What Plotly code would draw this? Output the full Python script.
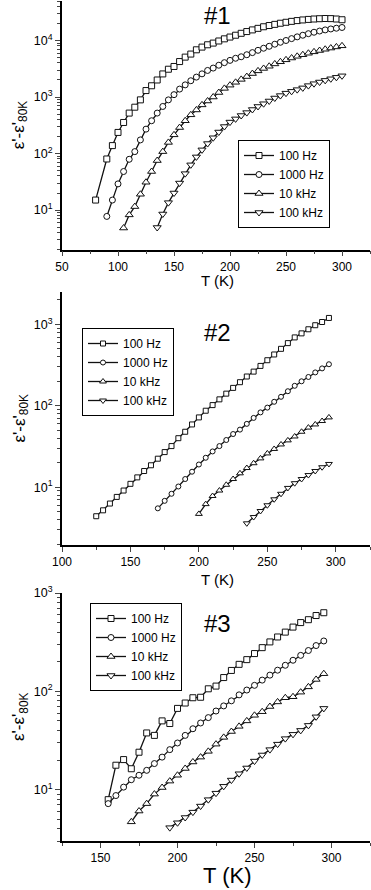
import math
import plotly.graph_objects as go

W, H = 371, 890
FONT = "Liberation Sans, Arial, sans-serif"

# ---- sample #1 -----------------------------------------------------------
p1_t_100hz = [80, 90, 95, 100, 105, 110, 115, 120, 125, 130, 135, 140, 145, 150,
              155, 160, 165, 170, 175, 180, 185, 190, 195, 200, 205, 210, 215,
              220, 225, 230, 235, 240, 245, 250, 255, 260, 265, 270, 275, 280,
              285, 290, 295, 300]
p1_100hz = [15, 80, 138, 236, 354, 519, 660, 890, 1300, 1580, 2000, 2560, 3100,
            3470, 4240, 5080, 5750, 6840, 7640, 8400, 9000, 9800, 10700, 11500,
            12400, 13400, 14400, 15400, 16400, 17500, 18400, 19300, 20200, 21000,
            21800, 22500, 23100, 23600, 24000, 24300, 24500, 24400, 24000, 23300]
p1_t_1000hz = [90, 95, 100, 105, 110, 115, 120, 125, 130, 135, 140, 145, 150,
               155, 160, 165, 170, 175, 180, 185, 190, 195, 200, 205, 210, 215,
               220, 225, 230, 235, 240, 245, 250, 255, 260, 265, 270, 275, 280,
               285, 290, 295, 300]
p1_1000hz = [7.7, 15, 29, 48, 79, 108, 174, 270, 380, 519, 680, 890, 1100, 1380,
             1640, 1940, 2250, 2570, 2950, 3250, 3650, 4050, 4450, 4850, 5150,
             5600, 6100, 6700, 7300, 7900, 8600, 9300, 10000, 10800, 11600, 12400,
             13200, 14000, 14700, 15400, 16000, 16500, 17000]
p1_t_10khz = [105, 110, 115, 120, 125, 130, 135, 140, 145, 150, 155, 160, 165,
              170, 175, 180, 185, 190, 195, 200, 205, 210, 215, 220, 225, 230,
              235, 240, 245, 250, 255, 260, 265, 270, 275, 280, 285, 290, 295, 300]
p1_10khz = [4.8, 8.2, 11.5, 19, 31, 48, 75, 108, 157, 214, 288, 380, 484, 590,
            725, 850, 1000, 1200, 1420, 1620, 1820, 2050, 2300, 2600, 2900, 3200,
            3500, 3850, 4200, 4550, 4900, 5250, 5600, 5950, 6300, 6650, 7000, 7350,
            7700, 8050]
p1_t_100khz = [135, 140, 145, 150, 155, 160, 165, 170, 175, 180, 185, 190, 195,
               200, 205, 210, 215, 220, 225, 230, 235, 240, 245, 250, 255, 260,
               265, 270, 275, 280, 285, 290, 295, 300]
p1_100khz = [4.9, 8.5, 13.5, 20, 30, 44, 63, 87, 116, 150, 190, 240, 300, 360,
             410, 470, 530, 600, 680, 760, 850, 960, 1060, 1170, 1260, 1350, 1450,
             1590, 1720, 1840, 1970, 2100, 2230, 2370]

# ---- sample #2 -----------------------------------------------------------
p2_t_100hz = [125, 130, 135, 140, 145, 150, 155, 160, 165, 170, 175, 180, 185,
              190, 195, 200, 205, 210, 215, 220, 225, 230, 235, 240, 245, 250,
              255, 260, 265, 270, 275, 280, 285, 290, 295]
p2_100hz = [4.4, 5.2, 6.3, 7.6, 9.1, 11, 13.2, 15.8, 18.6, 22.4, 27, 32, 40, 48,
            59, 72, 87, 102, 120, 141, 166, 195, 229, 263, 309, 363, 427, 501,
            589, 692, 776, 871, 977, 1070, 1200]
p2_t_1000hz = [170, 175, 180, 185, 190, 195, 200, 205, 210, 215, 220, 225, 230,
               235, 240, 245, 250, 255, 260, 265, 270, 275, 280, 285, 290, 295]
p2_1000hz = [5.5, 6.8, 8.3, 10.2, 12.6, 15.5, 19, 23, 27.5, 32, 38, 45, 51, 60,
             71, 83, 95, 112, 129, 151, 176, 200, 226, 257, 288, 324]
p2_t_10khz = [200, 205, 210, 215, 220, 225, 230, 235, 240, 245, 250, 255, 260,
              265, 270, 275, 280, 285, 290, 295]
p2_10khz = [4.7, 6.2, 7.8, 9.1, 10.7, 12.6, 14.8, 17.2, 19.7, 22.6, 26, 29.5,
            33.5, 37.6, 42, 48, 54, 59, 65, 72]
p2_t_100khz = [235, 240, 245, 250, 255, 260, 265, 270, 275, 280, 285, 290, 295]
p2_100khz = [3.6, 4.3, 5.1, 6.0, 7.1, 8.3, 9.8, 11.2, 12.6, 14.1, 15.8, 17.6, 19.3]

# ---- sample #3 -----------------------------------------------------------
p3_t_100hz = [155, 160, 165, 170, 175, 180, 185, 190, 195, 200, 205, 210, 215,
              220, 225, 230, 235, 240, 245, 250, 255, 260, 265, 270, 275, 280,
              285, 290, 295]
p3_100hz = [7.9, 17.7, 20.2, 16.3, 24, 37.7, 35.6, 50, 47, 67, 76, 86, 87, 106,
            113, 138, 163, 188, 210, 242, 278, 318, 357, 400, 450, 500, 535, 590,
            630]
p3_t_1000hz = p3_t_100hz
p3_1000hz = [7.2, 8.7, 10.6, 12.6, 14, 15.7, 18.4, 21.4, 25.5, 29.8, 35.6, 41.6,
             47.6, 54, 63, 71, 80, 92, 103, 115, 130, 146, 164, 184, 207, 232,
             260, 292, 325]
p3_t_10khz = [170, 175, 180, 185, 190, 195, 200, 205, 210, 215, 220, 225, 230,
              235, 240, 245, 250, 255, 260, 265, 270, 275, 280, 285, 290, 295]
p3_10khz = [4.7, 6.05, 7.2, 9.0, 10.5, 12.2, 14, 16.4, 19.1, 21.4, 24.5, 29, 34,
            39, 44, 50, 57, 62, 70, 78, 86, 88, 98, 111, 132, 151]
p3_t_100khz = [195, 200, 205, 210, 215, 220, 225, 230, 235, 240, 245, 250, 255,
               260, 265, 270, 275, 280, 285, 290, 295]
p3_100khz = [4.1, 4.6, 5.2, 5.9, 6.8, 7.9, 9.2, 10.8, 12.5, 14.5, 16.6, 19.5,
             22.5, 25.5, 29, 33, 36.5, 40, 45, 55, 67]

FREQ_LABELS = ["100 Hz", "1000 Hz", "10 kHz", "100 kHz"]
SYMBOLS = ["square", "circle", "triangle-up", "triangle-down"]
Y_TICKS = [10, 100, 1000, 10000]
Y_TICKTEXT = ["10<sup>1</sup>", "10<sup>2</sup>", "10<sup>3</sup>", "10<sup>4</sup>"]
Y_MINOR = [m * 10 ** e for e in range(0, 5) for m in range(2, 10)]


def fx(px):
    return px / W


def fy(px):
    return 1 - px / H


# pixel boxes of the three stacked panels in the original figure
# (legend: left edge + vertical centre of the box)
PANELS = [
    dict(name="#1", series=[(p1_t_100hz, p1_100hz), (p1_t_1000hz, p1_1000hz),
                            (p1_t_10khz, p1_10khz), (p1_t_100khz, p1_100khz)],
         xr=[50, 325], yr=[2, 50000], top=1, bot=249.5, msize=6,
         legend=(238, 184), tag=(217, 16), xt=(217, 280), xt_size=15),
    dict(name="#2", series=[(p2_t_100hz, p2_100hz), (p2_t_1000hz, p2_1000hz),
                            (p2_t_10khz, p2_10khz), (p2_t_100khz, p2_100khz)],
         xr=[100, 325], yr=[1.95, 2500], top=292, bot=545, msize=5,
         legend=(82, 372), tag=(217, 332), xt=(217, 579), xt_size=15),
    dict(name="#3", series=[(p3_t_100hz, p3_100hz), (p3_t_1000hz, p3_1000hz),
                            (p3_t_10khz, p3_10khz), (p3_t_100khz, p3_100khz)],
         xr=[125, 325], yr=[3, 1000], top=593, bot=841, msize=6,
         legend=(90, 647), tag=(217, 623), xt=(227, 875), xt_size=22),
]

fig = go.Figure()
annotations = []
layout = {}
for i, p in enumerate(PANELS, start=1):
    sfx = "" if i == 1 else str(i)
    leg = "legend" if i == 1 else f"legend{i}"
    for (t, v), lab, sym in zip(p["series"], FREQ_LABELS, SYMBOLS):
        fig.add_trace(go.Scatter(
            x=t, y=v, mode="lines+markers", name=lab, legend=leg,
            xaxis=f"x{sfx}", yaxis=f"y{sfx}",
            line=dict(color="#111", width=1.3),
            marker=dict(symbol=sym, size=p["msize"] + (1 if "triangle" in sym else 0),
                        color="white", line=dict(color="#111", width=1)),
        ))
    dom_y = [fy(p["bot"]), fy(p["top"])]
    layout[f"xaxis{sfx}"] = dict(
        domain=[fx(62), fx(370)], range=p["xr"], anchor=f"y{sfx}",
        automargin=False,
        dtick=50, tick0=0, ticks="outside", ticklen=5, tickwidth=1.3,
        showline=True, linecolor="black", linewidth=1.8, showgrid=False,
        zeroline=False, tickfont=dict(size=12, color="black", family=FONT),
        minor=dict(ticks="outside", dtick=25, tick0=0, ticklen=3,
                   tickwidth=1.2, showgrid=False))
    layout[f"yaxis{sfx}"] = dict(
        domain=dom_y, type="log", anchor=f"x{sfx}", automargin=False,
        range=[math.log10(p["yr"][0]), math.log10(p["yr"][1])],
        tickmode="array", tickvals=Y_TICKS, ticktext=Y_TICKTEXT,
        ticks="outside", ticklen=5, tickwidth=1.3,
        showline=True, linecolor="black", linewidth=1.8, showgrid=False,
        zeroline=False, tickfont=dict(size=12.5, color="black", family=FONT),
        minor=dict(ticks="outside", tickvals=Y_MINOR, ticklen=3,
                   tickwidth=1.2, showgrid=False))
    layout[leg] = dict(
        x=fx(p["legend"][0]), y=fy(p["legend"][1]), xanchor="left",
        yanchor="middle",
        bgcolor="white", bordercolor="black", borderwidth=1,
        font=dict(size=12, color="black", family=FONT), tracegroupgap=0,
        itemwidth=30)
    annotations += [
        dict(text=p["name"], x=fx(p["tag"][0]), y=fy(p["tag"][1]),
             xanchor="center", yanchor="middle",
             xref="paper", yref="paper", showarrow=False,
             font=dict(size=24, color="black", family=FONT)),
        dict(text="T (K)", x=fx(p["xt"][0]), y=fy(p["xt"][1]),
             xanchor="center", yanchor="middle",
             xref="paper", yref="paper", showarrow=False,
             font=dict(size=p["xt_size"], color="black", family=FONT)),
        dict(text="ε'-ε'<sub>80K</sub>", x=fx(20), y=(dom_y[0] + dom_y[1]) / 2,
             xanchor="center", yanchor="middle",
             xref="paper", yref="paper", showarrow=False, textangle=-90,
             font=dict(size=17, color="black", family=FONT)),
    ]

fig.update_layout(
    width=W, height=H, margin=dict(l=0, r=0, t=0, b=0),
    paper_bgcolor="white", plot_bgcolor="white",
    annotations=annotations, **layout)

# the page body has a default 8px margin; drop it so the figure fills the window
fig.write_html("out.html", config={"displayModeBar": False},
               post_script="document.body.style.margin = '0px';")
